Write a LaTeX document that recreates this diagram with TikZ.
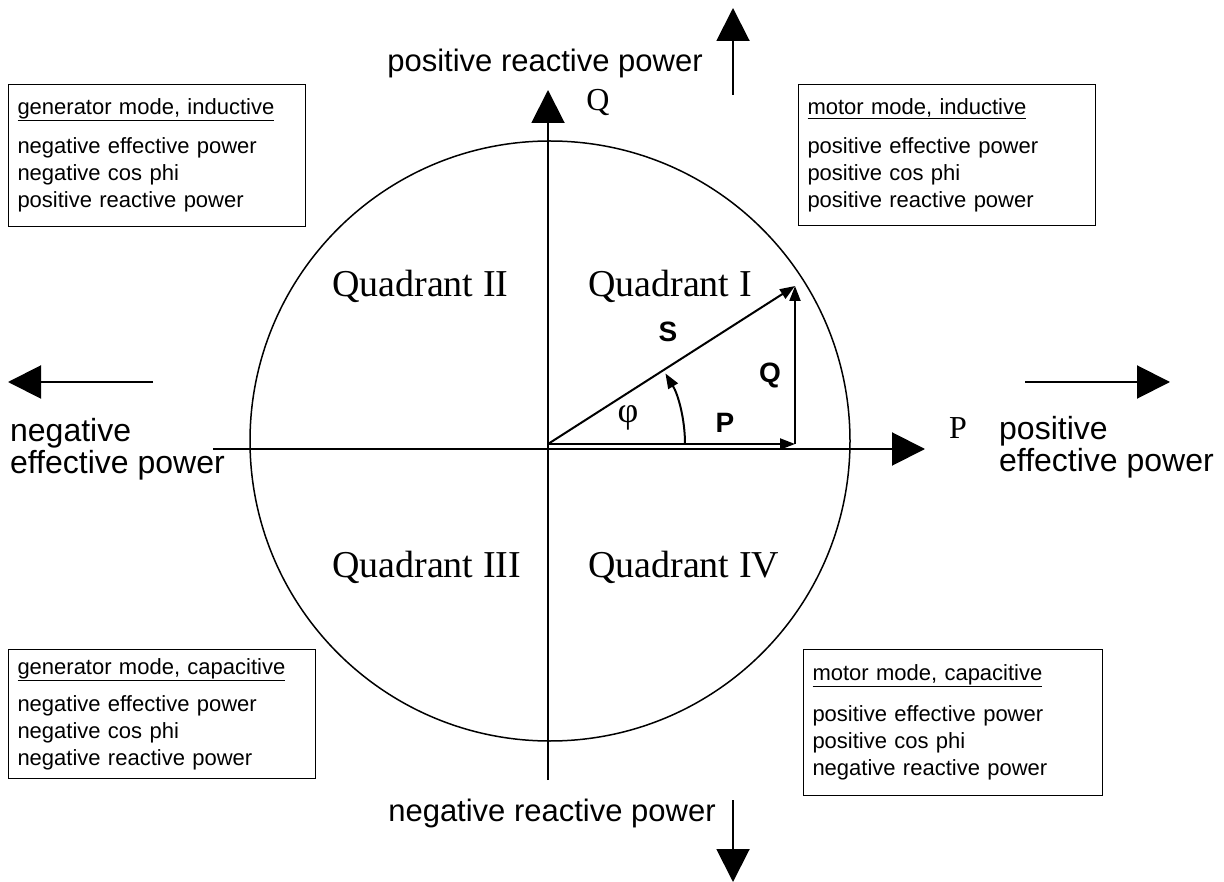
\documentclass[tikz,border=0pt]{standalone}
\usepackage{fontspec}
\setmainfont{Liberation Serif}
\setsansfont{Liberation Sans}
\usetikzlibrary{arrows.meta, positioning}

\begin{document}
\begin{tikzpicture}[x=1pt, y=-1pt, line width=1.6pt,
    modebox/.style = {draw, line width=1pt, anchor=north west, align=left, inner xsep=9pt, font=\sffamily\fontsize{22}{27}\selectfont},
    quad/.style = {anchor=base west, font=\fontsize{38}{40}\selectfont},
    big/.style = {font=\sffamily\fontsize{31}{32}\selectfont},
    axlabel/.style = {font=\fontsize{32}{34}\selectfont},
    vec/.style = {font=\sffamily\bfseries\fontsize{28}{30}\selectfont},
    bigarrow/.style = {-{Triangle[length=33pt, width=33pt]}, line width=2pt},
    vecarrow/.style = {-{Triangle[length=15pt, width=11pt]}, line width=2pt}]
    \useasboundingbox (0,0) rectangle (1224,882);

    \coordinate (xl) at (213,449);
    \coordinate (xr) at (925,449);
    \coordinate (yb) at (548,780);
    \coordinate (yt) at (548,90);
    \coordinate (o) at (548,444);
    \coordinate (p) at (795,444);
    \coordinate (s) at (795,286);

    \draw[line width=1.5pt] (550,441) circle[radius=300];
    \draw[bigarrow] (xl) -- (xr);
    \draw[bigarrow] (yb) -- (yt);

    \node[axlabel] (qax) at (598,103) {Q};
    \node[axlabel] (pax) at (958,428) {P};

    \draw[vecarrow] (o) -- (s);
    \draw[vecarrow] (o) -- (p);
    \draw[vecarrow] (p) -- (s);
    \draw[vecarrow] (685,444) arc[start angle=0, end angle=-31, radius=137];

    \node[vec] (slab) at (668,332) {S};
    \node[vec] (qlab) at (770,375) {Q};
    \node[vec] (plab) at (725,423) {P};
    \node[font=\fontsize{36}{38}\selectfont] (phi) at (628,418) {φ};

    \node[quad] (q1) at (584,297) {Quadrant I};
    \node[quad] (q2) at (328,297) {Quadrant II};
    \node[quad] (q3) at (328,577) {Quadrant III};
    \node[quad] (q4) at (584,577) {Quadrant IV};

    \node[modebox, text width=279pt, minimum height=142pt] (genind) at (8,84)
        {\underline{generator mode, inductive}\\[12pt]negative effective power\\negative cos phi\\positive reactive power};
    \node[modebox, text width=279pt, minimum height=141pt] (motind) at (798,84)
        {\underline{motor mode, inductive}\\[12pt]positive effective power\\positive cos phi\\positive reactive power};
    \node[modebox, text width=289pt, minimum height=129pt] (gencap) at (8,649)
        {\underline{generator mode, capacitive}\\[10pt]negative effective power\\negative cos phi\\negative reactive power};
    \node[modebox, text width=281pt, minimum height=146pt] (motcap) at (803,649)
        {\underline{motor mode, capacitive}\\[14pt]positive effective power\\positive cos phi\\negative reactive power};

    \node[big] (posq) at (545,63) {positive reactive power};
    \node[big] (negq) at (552,813) {negative reactive power};
    \node[big, anchor=west, align=left, font=\sffamily\fontsize{32}{32}\selectfont] (negp) at (6,449) {negative\\effective power};
    \node[big, anchor=west, align=left, font=\sffamily\fontsize{32}{32}\selectfont] (posp) [right=24pt of pax.east, yshift=-19pt] {positive\\effective power};

    \coordinate (upa) at (733,95);
    \coordinate (upb) at (733,8);
    \coordinate (dna) at (733,800);
    \coordinate (dnb) at (733,882);
    \coordinate (lfa) at (153,382);
    \coordinate (lfb) at (8,382);
    \coordinate (rta) at (1025,382);
    \coordinate (rtb) at (1170,382);
    \draw[bigarrow] (upa) -- (upb);
    \draw[bigarrow] (dna) -- (dnb);
    \draw[bigarrow] (lfa) -- (lfb);
    \draw[bigarrow] (rta) -- (rtb);
\end{tikzpicture}
\end{document}
